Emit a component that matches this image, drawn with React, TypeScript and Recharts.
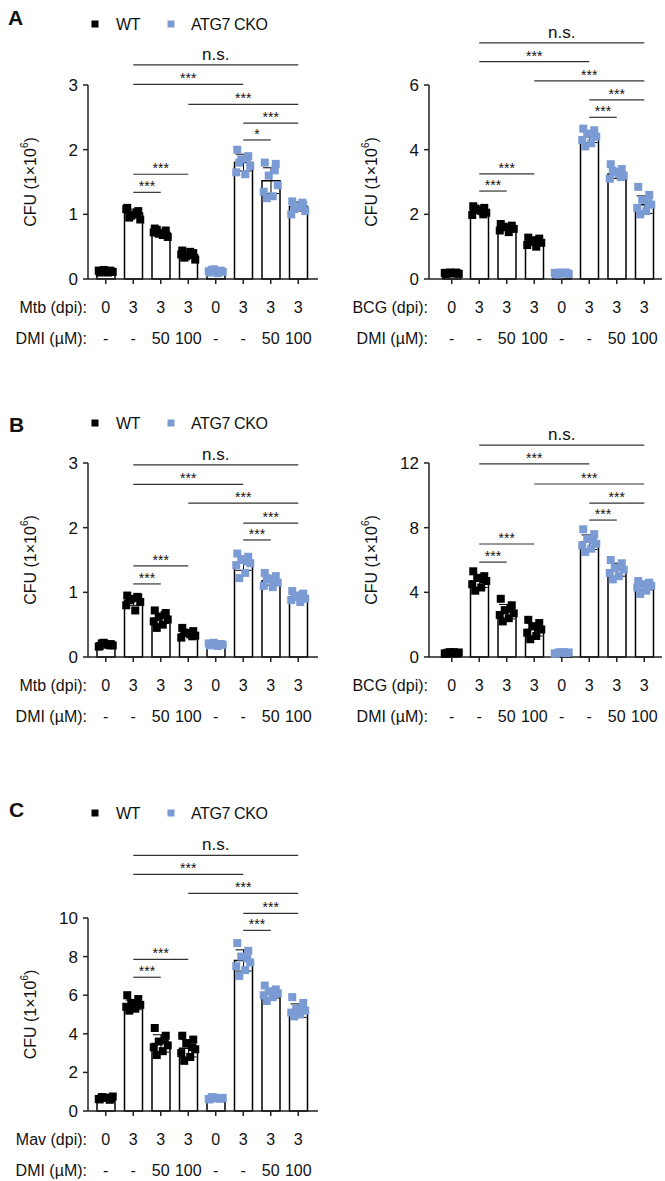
import React from "react";
import { ComposedChart, Bar, Scatter, XAxis, YAxis, ErrorBar, ReferenceLine } from "recharts";

const CATS = ["wt0", "wt3", "wt50", "wt100", "ko0", "ko3", "ko50", "ko100"];
const IS_KO = [false, false, false, false, true, true, true, true];
const DPI = ["0", "3", "3", "3", "0", "3", "3", "3"];
const DMI = ["-", "-", "50", "100", "-", "-", "50", "100"];

const WT_COLOR = "#000000";
const KO_COLOR = "#7b9bd4";
const FONT = "'Liberation Sans', Arial, sans-serif";

// A, Mtb
const A_MTB_MEAN = [0.12, 1.02, 0.72, 0.38, 0.12, 1.8, 1.52, 1.12];
const A_MTB_SD = [0.02, 0.06, 0.05, 0.05, 0.02, 0.13, 0.2, 0.07];
const A_MTB_POINTS = [
  [0.1, 0.12, 0.14, 0.11, 0.13, 0.1, 0.12, 0.13],
  [1.1, 1.05, 0.98, 0.92, 1.08, 1.0, 0.95, 1.03],
  [0.78, 0.75, 0.7, 0.65, 0.72, 0.68, 0.76, 0.7],
  [0.44, 0.4, 0.35, 0.3, 0.38, 0.42, 0.33, 0.37],
  [0.1, 0.13, 0.15, 0.11, 0.12, 0.09, 0.14, 0.12],
  [2.0, 1.9, 1.85, 1.75, 1.65, 1.62, 1.8, 1.88],
  [1.8, 1.78, 1.6, 1.45, 1.35, 1.28, 1.25, 1.68],
  [1.2, 1.15, 1.1, 1.05, 1.0, 1.12, 1.08, 1.18],
];
const A_MTB_SIG = [
  { from: "wt3", to: "ko100", y: 3.31, label: "n.s." },
  { from: "wt3", to: "ko3", y: 3.01, label: "***" },
  { from: "wt100", to: "ko100", y: 2.7, label: "***" },
  { from: "ko3", to: "ko100", y: 2.41, label: "***" },
  { from: "ko3", to: "ko50", y: 2.15, label: "*" },
  { from: "wt3", to: "wt100", y: 1.62, label: "***" },
  { from: "wt3", to: "wt50", y: 1.34, label: "***" },
];

// A, BCG
const A_BCG_MEAN = [0.18, 2.12, 1.58, 1.15, 0.17, 4.4, 3.25, 2.3];
const A_BCG_SD = [0.02, 0.1, 0.08, 0.1, 0.02, 0.18, 0.14, 0.27];
const A_BCG_POINTS = [
  [0.15, 0.18, 0.2, 0.16, 0.19, 0.17, 0.18, 0.2],
  [2.25, 2.2, 2.15, 2.05, 1.98, 2.1, 2.18, 2.0],
  [1.7, 1.65, 1.6, 1.55, 1.5, 1.45, 1.62, 1.58],
  [1.28, 1.25, 1.2, 1.12, 1.05, 1.0, 1.15, 1.18],
  [0.15, 0.18, 0.2, 0.16, 0.19, 0.17, 0.14, 0.2],
  [4.65, 4.6, 4.5, 4.4, 4.3, 4.2, 4.1, 4.45],
  [3.55, 3.4, 3.3, 3.2, 3.1, 3.25, 3.35, 3.15],
  [2.85, 2.6, 2.45, 2.3, 2.2, 2.1, 2.0, 2.35],
];
const A_BCG_SIG = [
  { from: "wt3", to: "ko100", y: 7.3, label: "n.s." },
  { from: "wt3", to: "ko3", y: 6.72, label: "***" },
  { from: "wt100", to: "ko100", y: 6.13, label: "***" },
  { from: "ko3", to: "ko100", y: 5.54, label: "***" },
  { from: "ko3", to: "ko50", y: 5.0, label: "***" },
  { from: "wt3", to: "wt100", y: 3.25, label: "***" },
  { from: "wt3", to: "wt50", y: 2.72, label: "***" },
];

// B, Mtb
const B_MTB_MEAN = [0.19, 0.87, 0.6, 0.36, 0.2, 1.45, 1.18, 0.93];
const B_MTB_SD = [0.02, 0.07, 0.08, 0.04, 0.02, 0.11, 0.07, 0.05];
const B_MTB_POINTS = [
  [0.17, 0.2, 0.22, 0.18, 0.16, 0.19, 0.21, 0.18],
  [0.95, 0.92, 0.9, 0.85, 0.8, 0.72, 0.88, 0.93],
  [0.72, 0.68, 0.62, 0.58, 0.55, 0.5, 0.45, 0.65],
  [0.45, 0.4, 0.37, 0.33, 0.3, 0.35, 0.38, 0.32],
  [0.18, 0.2, 0.22, 0.19, 0.21, 0.17, 0.2, 0.19],
  [1.6, 1.55, 1.5, 1.45, 1.42, 1.3, 1.22, 1.48],
  [1.3, 1.25, 1.2, 1.15, 1.1, 1.08, 1.22, 1.18],
  [1.02, 0.98, 0.95, 0.9, 0.88, 0.85, 0.93, 0.96],
];
const B_MTB_SIG = [
  { from: "wt3", to: "ko100", y: 2.97, label: "n.s." },
  { from: "wt3", to: "ko3", y: 2.67, label: "***" },
  { from: "wt100", to: "ko100", y: 2.38, label: "***" },
  { from: "ko3", to: "ko100", y: 2.07, label: "***" },
  { from: "ko3", to: "ko50", y: 1.81, label: "***" },
  { from: "wt3", to: "wt100", y: 1.41, label: "***" },
  { from: "wt3", to: "wt50", y: 1.13, label: "***" },
];

// B, BCG
const B_BCG_MEAN = [0.26, 4.7, 2.8, 1.7, 0.26, 7.1, 5.4, 4.4];
const B_BCG_SD = [0.03, 0.4, 0.45, 0.4, 0.03, 0.45, 0.4, 0.25];
const B_BCG_POINTS = [
  [0.2, 0.25, 0.3, 0.28, 0.22, 0.3, 0.26, 0.24],
  [5.3, 5.0, 4.9, 4.7, 4.5, 4.3, 4.1, 4.8],
  [3.6, 3.2, 2.9, 2.7, 2.6, 2.4, 2.2, 3.0],
  [2.3, 2.1, 1.9, 1.7, 1.5, 1.3, 1.1, 1.8],
  [0.2, 0.25, 0.3, 0.28, 0.22, 0.3, 0.26, 0.24],
  [7.9, 7.6, 7.3, 7.0, 6.9, 6.7, 6.5, 7.2],
  [6.0, 5.8, 5.5, 5.4, 5.2, 5.0, 4.8, 5.6],
  [4.7, 4.6, 4.5, 4.4, 4.3, 4.1, 3.9, 4.5],
];
const B_BCG_SIG = [
  { from: "wt3", to: "ko100", y: 13.1, label: "n.s." },
  { from: "wt3", to: "ko3", y: 11.94, label: "***" },
  { from: "wt100", to: "ko100", y: 10.7, label: "***" },
  { from: "ko3", to: "ko100", y: 9.52, label: "***" },
  { from: "ko3", to: "ko50", y: 8.47, label: "***" },
  { from: "wt3", to: "wt100", y: 6.99, label: "***" },
  { from: "wt3", to: "wt50", y: 5.87, label: "***" },
];

// C, Mav
const C_MAV_MEAN = [0.66, 5.5, 3.5, 3.25, 0.66, 7.8, 6.1, 5.2];
const C_MAV_SD = [0.06, 0.25, 0.45, 0.45, 0.04, 0.55, 0.25, 0.35];
const C_MAV_POINTS = [
  [0.6, 0.65, 0.7, 0.75, 0.62, 0.68, 0.72, 0.58],
  [6.0, 5.8, 5.6, 5.5, 5.4, 5.3, 5.2, 5.6],
  [4.3, 3.9, 3.6, 3.4, 3.3, 3.1, 2.9, 3.7],
  [3.9, 3.7, 3.5, 3.2, 3.0, 2.8, 2.6, 3.3],
  [0.6, 0.65, 0.7, 0.68, 0.62, 0.66, 0.72, 0.64],
  [8.7, 8.3, 8.0, 7.7, 7.5, 7.3, 7.0, 7.9],
  [6.5, 6.3, 6.2, 6.1, 6.0, 5.9, 5.7, 6.2],
  [5.9, 5.6, 5.3, 5.2, 5.1, 5.0, 4.9, 5.4],
];
const C_MAV_SIG = [
  { from: "wt3", to: "ko100", y: 13.24, label: "n.s." },
  { from: "wt3", to: "ko3", y: 12.26, label: "***" },
  { from: "wt100", to: "ko100", y: 11.28, label: "***" },
  { from: "ko3", to: "ko100", y: 10.24, label: "***" },
  { from: "ko3", to: "ko50", y: 9.36, label: "***" },
  { from: "wt3", to: "wt100", y: 7.86, label: "***" },
  { from: "wt3", to: "wt50", y: 6.93, label: "***" },
];

// horizontal spread of replicate dots inside a bar
const JITTER = [-6, 5, -2, 7, -7, 2, -4, 4];

const buildRows = (mean: number[], sd: number[], points: number[][]) =>
  CATS.map((cat, i) => {
    const row: any = { cat, mean: mean[i], sd: sd[i], ko: IS_KO[i] };
    points[i].forEach((v, j) => (row[`p${j}`] = v));
    return row;
  });

const yLabel = (props: any) => {
  const vb = props.viewBox;
  const cx = vb.x + vb.width - 58;
  const cy = vb.y + vb.height / 2;
  return (
    <text x={cx} y={cy} transform={`rotate(-90 ${cx} ${cy})`} textAnchor="middle" dominantBaseline="central" fontSize={16} fill="#111" fontFamily={FONT}>
      CFU (1×10<tspan dy={-6} fontSize={10}>6</tspan>
      <tspan dy={6}>)</tspan>
    </text>
  );
};

const makeTick = (pathogen: string, headerX: number) => (props: any) => {
  const { x, y, index } = props;
  const t = { fontSize: 16, fill: "#111", fontFamily: FONT };
  return (
    <g>
      <text x={x} y={y + 29} textAnchor="middle" {...t}>{DPI[index]}</text>
      <text x={x} y={y + 60} textAnchor="middle" {...t}>{DMI[index]}</text>
      {index === 0 && (
        <>
          <text x={headerX} y={y + 29} textAnchor="end" {...t}>{pathogen} (dpi):</text>
          <text x={headerX} y={y + 60} textAnchor="end" {...t}>DMI (µM):</text>
        </>
      )}
    </g>
  );
};

const dotShape = (j: number) => (props: any) => {
  const { cx, cy, payload } = props;
  if (cx == null || cy == null) return <g />;
  return <rect x={cx + JITTER[j] - 4} y={cy - 4} width={8} height={8} fill={payload.ko ? KO_COLOR : WT_COLOR} />;
};

interface PanelProps {
  left: number;
  top: number;
  width: number;
  height: number;
  margin: { top: number; right: number; bottom: number; left: number };
  axisWidth: number;
  padL: number;
  padR: number;
  yMax: number;
  yTicks: number[];
  pathogen: string;
  mean: number[];
  sd: number[];
  points: number[][];
  sig: { from: string; to: string; y: number; label: string }[];
}

function Panel(p: PanelProps) {
  const rows = buildRows(p.mean, p.sd, p.points);
  return (
    <div style={{ position: "absolute", left: p.left, top: p.top }}>
      <ComposedChart width={p.width} height={p.height} data={rows} margin={p.margin} barSize={18}>
        <XAxis
          dataKey="cat"
          height={60}
          padding={{ left: p.padL, right: p.padR }}
          tickSize={5}
          tickMargin={0}
          stroke="#222"
          strokeWidth={1.5}
          interval={0}
          tick={makeTick(p.pathogen, p.axisWidth - 1)}
        />
        <YAxis
          width={p.axisWidth}
          domain={[0, p.yMax]}
          ticks={p.yTicks}
          tickSize={5}
          tickMargin={5}
          stroke="#222"
          strokeWidth={1.5}
          tick={{ fontSize: 17, fill: "#111", fontFamily: FONT }}
          label={yLabel}
        />
        <Bar dataKey="mean" fill="#fff" stroke="#000" strokeWidth={1.5} isAnimationActive={false}>
          <ErrorBar dataKey="sd" width={8} stroke="#000" strokeWidth={1} direction="y" />
        </Bar>
        {JITTER.map((_, j) => (
          <Scatter key={j} dataKey={`p${j}`} shape={dotShape(j)} isAnimationActive={false} />
        ))}
        {p.sig.map((s, k) => (
          <ReferenceLine
            key={k}
            segment={[{ x: s.from, y: s.y }, { x: s.to, y: s.y }]}
            ifOverflow="visible"
            stroke="#333"
            strokeWidth={1.2}
            label={{
              value: s.label,
              position: "top",
              offset: s.label === "n.s." ? 5 : 1,
              fontSize: s.label === "n.s." ? 17 : 14,
              fill: "#111",
              fontFamily: FONT,
            }}
          />
        ))}
      </ComposedChart>
    </div>
  );
}

function Legend({ y }: { y: number }) {
  const t = { fontSize: 16, fill: "#111", fontFamily: FONT, letterSpacing: -0.4 };
  return (
    <g>
      <rect x={91.5} y={y - 3.5} width={7} height={7} fill={WT_COLOR} />
      <text x={116} y={y + 6} {...t}>WT</text>
      <rect x={167.5} y={y - 3.5} width={7} height={7} fill={KO_COLOR} />
      <text x={191} y={y + 6} {...t}>ATG7 CKO</text>
    </g>
  );
}

export default function App() {
  const letter = { fontSize: 21, fontWeight: 700, fill: "#111", fontFamily: FONT };
  return (
    <div style={{ position: "absolute", left: 0, top: 0, width: 665, height: 1181, background: "#fff", overflow: "hidden" }}>
      <Panel left={0} top={0} width={330} height={360} margin={{ top: 85, right: 12, bottom: 21, left: 0 }} axisWidth={88} padL={4} padR={6}
        yMax={3} yTicks={[0, 1, 2, 3]} pathogen="Mtb" mean={A_MTB_MEAN} sd={A_MTB_SD} points={A_MTB_POINTS} sig={A_MTB_SIG} />
      <Panel left={330} top={0} width={335} height={360} margin={{ top: 85, right: 3, bottom: 21, left: 0 }} axisWidth={99} padL={9} padR={4}
        yMax={6} yTicks={[0, 2, 4, 6]} pathogen="BCG" mean={A_BCG_MEAN} sd={A_BCG_SD} points={A_BCG_POINTS} sig={A_BCG_SIG} />
      <Panel left={0} top={380} width={330} height={360} margin={{ top: 83, right: 12, bottom: 23, left: 0 }} axisWidth={88} padL={4} padR={6}
        yMax={3} yTicks={[0, 1, 2, 3]} pathogen="Mtb" mean={B_MTB_MEAN} sd={B_MTB_SD} points={B_MTB_POINTS} sig={B_MTB_SIG} />
      <Panel left={330} top={380} width={335} height={360} margin={{ top: 83, right: 3, bottom: 23, left: 0 }} axisWidth={99} padL={9} padR={4}
        yMax={12} yTicks={[0, 4, 8, 12]} pathogen="BCG" mean={B_BCG_MEAN} sd={B_BCG_SD} points={B_BCG_POINTS} sig={B_BCG_SIG} />
      <Panel left={0} top={760} width={330} height={421} margin={{ top: 158, right: 12, bottom: 10, left: 0 }} axisWidth={88} padL={4} padR={6}
        yMax={10} yTicks={[0, 2, 4, 6, 8, 10]} pathogen="Mav" mean={C_MAV_MEAN} sd={C_MAV_SD} points={C_MAV_POINTS} sig={C_MAV_SIG} />
      <svg width={665} height={1181} style={{ position: "absolute", left: 0, top: 0, pointerEvents: "none" }}>
        <text x={8} y={25} {...letter}>A</text>
        <text x={9} y={432} {...letter}>B</text>
        <text x={9} y={817} {...letter}>C</text>
        <Legend y={24} />
        <Legend y={423} />
        <Legend y={813} />
      </svg>
    </div>
  );
}
